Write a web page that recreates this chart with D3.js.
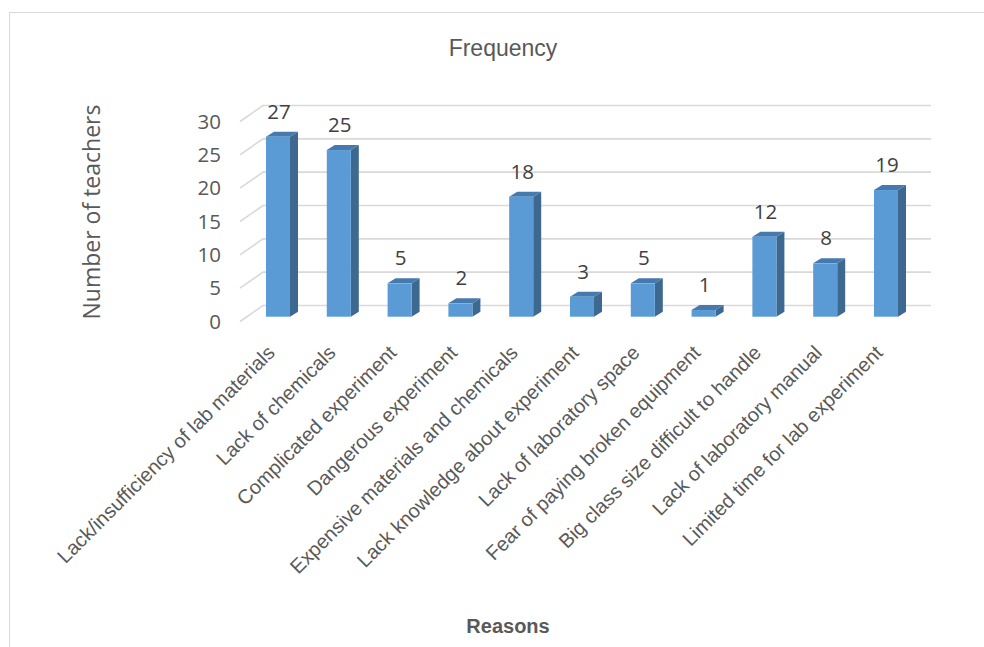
<!DOCTYPE html>
<html>
<head>
<meta charset="utf-8">
<script src="https://cdn.jsdelivr.net/npm/d3@7"></script>
<style>
  html, body { margin: 0; padding: 0; background: #ffffff; }
  svg { display: block; }
</style>
</head>
<body>
<div id="chart"></div>
<script>
// Reasons teachers gave for not running lab experiments
const categories = [
  "Lack/insufficiency of lab materials",
  "Lack of chemicals",
  "Complicated experiment",
  "Dangerous experiment",
  "Expensive materials and chemicals",
  "Lack knowledge about experiment",
  "Lack of laboratory space",
  "Fear of paying broken equipment",
  "Big class size difficult to handle",
  "Lack of laboratory manual",
  "Limited time for lab experiment"
];
const frequency = [27, 25, 5, 2, 18, 3, 5, 1, 12, 8, 19];
const yTicks = [0, 5, 10, 15, 20, 25, 30];

const chartTitle = "Frequency";
const xTitle = "Reasons";
const yTitle = "Number of teachers";

const W = 984, H = 647;
const svg = d3.select("#chart").append("svg")
  .attr("width", W).attr("height", H);

// chart area frame
svg.append("rect")
  .attr("x", 9.5).attr("y", 12.5)
  .attr("width", 1000).attr("height", 700)
  .attr("fill", "#fff").attr("stroke", "#d9d9d9").attr("stroke-width", 1);

// 3-D frame: front edge of the wall/floor, and depth offset to the back wall
const wallX0 = 240, wallX1 = 931;
const DX = 23, DY = -16;
const y = d3.scaleLinear().domain([0, 30]).range([321.5, 121.5]);

// columns sit part-way into the depth
const barShiftY = -4.8;
const barDX = 8, barDY = -5;

const x = d3.scaleBand()
  .domain(categories)
  .range([247.6, 916.4])
  .paddingInner(0.605)
  .paddingOuter(0.3025);

// gridlines: diagonal on the side wall then across the back wall
const grid = svg.append("g").attr("fill", "none")
  .attr("stroke", "#d9d9d9").attr("stroke-width", 1.6);
yTicks.forEach(t => {
  const p = d3.path();
  p.moveTo(wallX0, y(t));
  p.lineTo(wallX0 + DX, y(t) + DY);
  p.lineTo(wallX1, y(t) + DY);
  grid.append("path").attr("d", p.toString());
});

// value axis labels
const yAxis = d3.axisLeft(y).tickValues(yTicks).tickSize(0).tickPadding(0);
const yAxisG = svg.append("g")
  .attr("transform", `translate(221,0)`)
  .call(yAxis);
yAxisG.select(".domain").remove();
yAxisG.selectAll("text")
  .attr("font-family", "'Open Sans', sans-serif")
  .attr("font-size", 20.5)
  .attr("fill", "#595959");

// columns
const yb = v => y(v) + barShiftY;
const bars = svg.append("g");
categories.forEach((c, i) => {
  const v = frequency[i];
  const x0 = x(c), w = x.bandwidth();
  const top = yb(v), base = yb(0);
  const g = bars.append("g");
  // right side face
  g.append("path")
    .attr("d", `M${x0 + w},${top} L${x0 + w + barDX},${top + barDY} L${x0 + w + barDX},${base + barDY} L${x0 + w},${base} Z`)
    .attr("fill", "#3d6991");
  // top face
  g.append("path")
    .attr("d", `M${x0},${top} L${x0 + barDX},${top + barDY} L${x0 + w + barDX},${top + barDY} L${x0 + w},${top} Z`)
    .attr("fill", "#4679ad");
  // front face
  g.append("rect")
    .attr("x", x0).attr("y", top)
    .attr("width", w).attr("height", base - top)
    .attr("fill", "#5b9bd5");
  // value label
  svg.append("text")
    .attr("x", x0 + w / 2 + 1)
    .attr("y", top - 18)
    .attr("text-anchor", "middle")
    .attr("font-family", "'Open Sans', sans-serif")
    .attr("font-size", 20.5)
    .attr("fill", "#404040")
    .text(v);
});

// category labels, rotated 45 degrees
const catG = svg.append("g");
categories.forEach(c => {
  const cx = x(c) + x.bandwidth() / 2 - 2;
  catG.append("text")
    .attr("transform", `translate(${cx},354) rotate(-45)`)
    .attr("text-anchor", "end")
    .attr("font-family", "'Liberation Sans', Arial, sans-serif")
    .attr("font-size", 20)
    .attr("fill", "#595959")
    .text(c);
});

// titles
svg.append("text")
  .attr("x", 503).attr("y", 56)
  .attr("text-anchor", "middle")
  .attr("font-family", "'Liberation Sans', Arial, sans-serif")
  .attr("font-size", 23)
  .attr("fill", "#595959")
  .text(chartTitle);

svg.append("text")
  .attr("x", 508).attr("y", 633)
  .attr("text-anchor", "middle")
  .attr("font-family", "'Liberation Sans', Arial, sans-serif")
  .attr("font-weight", "bold")
  .attr("font-size", 20)
  .attr("fill", "#595959")
  .text(xTitle);

svg.append("text")
  .attr("transform", "translate(100,212) rotate(-90)")
  .attr("text-anchor", "middle")
  .attr("font-family", "'Open Sans', sans-serif")
  .attr("font-size", 23)
  .attr("fill", "#595959")
  .text(yTitle);
</script>
</body>
</html>
